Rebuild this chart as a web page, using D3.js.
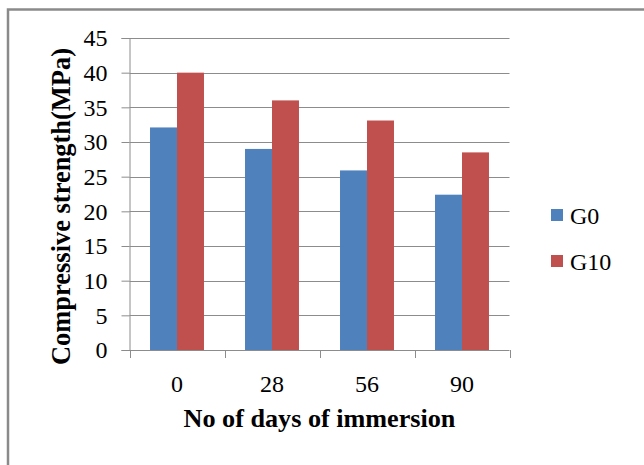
<!DOCTYPE html>
<html>
<head>
<meta charset="utf-8">
<script src="https://cdn.jsdelivr.net/npm/d3@7"></script>
<style>
  html, body { margin: 0; padding: 0; background: #fff; }
  svg { display: block; }
  text { font-family: "Liberation Serif", "Times New Roman", serif; fill: #000; }
</style>
</head>
<body>
<svg id="chart" width="644" height="465"></svg>
<script>
// Compressive strength after immersion, per mix
const days = ["0", "28", "56", "90"];
const seriesNames = ["G0", "G10"];
const g0Values = [32.1, 29.0, 25.9, 22.4];
const g10Values = [40.0, 36.0, 33.1, 28.5];
const yTicks = [0, 5, 10, 15, 20, 25, 30, 35, 40, 45];
const colors = ["#4F81BD", "#C0504D"];

const rows = days.map((d, i) => ({ day: d, values: [g0Values[i], g10Values[i]] }));

const svg = d3.select("#chart");

// outer chart frame (only top and left edges fall inside the view)
svg.append("rect")
  .attr("x", 8).attr("y", 9.5)
  .attr("width", 700).attr("height", 500)
  .attr("fill", "#fff")
  .attr("stroke", "#8a8a8a")
  .attr("stroke-width", 2.5);

const plot = { left: 129.5, right: 509.5, top: 38, bottom: 350 };

const y = d3.scaleLinear().domain([0, 45]).range([plot.bottom, plot.top]);
const x = d3.scaleBand().domain(days)
  .range([plot.left, plot.right])
  .paddingInner(0.432).paddingOuter(0.216);
const xs = d3.scaleBand().domain(d3.range(seriesNames.length))
  .range([0, x.bandwidth()]).padding(0);

// horizontal gridlines
svg.append("g")
  .selectAll("line")
  .data(yTicks.filter(t => t > 0))
  .join("line")
  .attr("x1", plot.left).attr("x2", plot.right)
  .attr("y1", d => Math.round(y(d)) + 0.5).attr("y2", d => Math.round(y(d)) + 0.5)
  .attr("stroke", "#8c8c8c").attr("stroke-width", 1);

// bars
svg.append("g")
  .selectAll("g")
  .data(rows)
  .join("g")
  .attr("transform", d => `translate(${x(d.day)},0)`)
  .selectAll("rect")
  .data(d => d.values.map((v, i) => ({ v, i })))
  .join("rect")
  .attr("x", d => xs(d.i))
  .attr("width", xs.bandwidth())
  .attr("y", d => y(d.v))
  .attr("height", d => y(0) - y(d.v))
  .attr("fill", d => colors[d.i]);

// y axis
const yAxis = d3.axisLeft(y).tickValues(yTicks).tickSize(8).tickPadding(14);
const gy = svg.append("g")
  .attr("transform", `translate(${plot.left},0)`)
  .call(yAxis);
gy.attr("font-family", null);
gy.select(".domain").attr("stroke", "#8c8c8c");
gy.selectAll(".tick line").attr("stroke", "#8c8c8c");
gy.selectAll(".tick text")
  .attr("font-size", 24)
  .attr("dy", "0.33em")
  .attr("fill", "#000");

// x axis, ticks at category boundaries
const xAxisG = svg.append("g");
xAxisG.append("line")
  .attr("x1", plot.left).attr("x2", plot.right)
  .attr("y1", plot.bottom + 0.5).attr("y2", plot.bottom + 0.5)
  .attr("stroke", "#8c8c8c");
const step = x.step();
const boundaries = d3.range(days.length + 1).map(i => plot.left + i * step);
xAxisG.selectAll("line.tk")
  .data(boundaries)
  .join("line")
  .attr("class", "tk")
  .attr("x1", d => Math.round(d) + 0.5).attr("x2", d => Math.round(d) + 0.5)
  .attr("y1", plot.bottom).attr("y2", plot.bottom + 8)
  .attr("stroke", "#8c8c8c");
xAxisG.selectAll("text")
  .data(days)
  .join("text")
  .attr("x", d => x(d) + x.bandwidth() / 2)
  .attr("y", 392)
  .attr("text-anchor", "middle")
  .attr("font-size", 24)
  .text(d => d);

// axis titles, sized to their measured span
function fitText(sel, target) {
  const w = sel.node().getComputedTextLength();
  const fs = parseFloat(sel.attr("font-size"));
  sel.attr("font-size", fs * target / w);
}

const xTitle = svg.append("text")
  .attr("x", (plot.left + plot.right) / 2)
  .attr("y", 427)
  .attr("text-anchor", "middle")
  .attr("font-weight", "bold")
  .attr("font-size", 22)
  .text("No of days of immersion");
fitText(xTitle, 272);

const yTitle = svg.append("text")
  .attr("transform", "translate(69.5,206.5) rotate(-90)")
  .attr("text-anchor", "middle")
  .attr("font-weight", "bold")
  .attr("font-size", 22)
  .text("Compressive strength(MPa)");
fitText(yTitle, 317);

// legend
const legend = svg.append("g")
  .selectAll("g")
  .data(seriesNames)
  .join("g")
  .attr("transform", (d, i) => `translate(551,${209 + i * 46})`);
legend.append("rect")
  .attr("width", 12).attr("height", 12)
  .attr("fill", (d, i) => colors[i]);
legend.append("text")
  .attr("x", 19).attr("y", 15)
  .attr("font-size", 24)
  .text(d => d);
</script>
</body>
</html>
